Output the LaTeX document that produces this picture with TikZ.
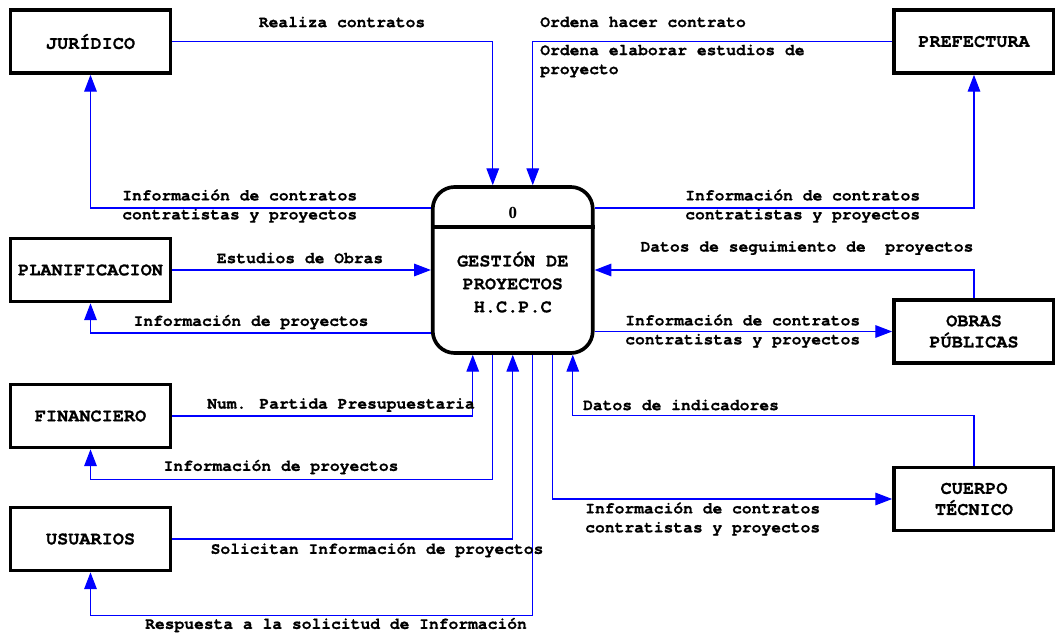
\documentclass[tikz,border=0pt]{standalone}
\usepackage{fontspec}
\usetikzlibrary{arrows.meta}
\newfontfamily\dfdmono{texgyrecursor}[Extension=.otf, UprightFont=*-regular, BoldFont=*-bold, BoldFeatures={FakeBold=0.8}]
\newfontfamily\dfdserif{Liberation Serif}

\tikzset{
  entity/.style={draw, line width=2.6pt, minimum width=4cm, minimum height=1.575cm,
    inner sep=0pt, align=center, font=\dfdmono\bfseries\fontsize{13.2}{15}\selectfont},
  process/.style={draw, line width=2.6pt, rounded corners=0.55cm,
    minimum width=4cm, minimum height=4.15cm, inner sep=0pt},
  ptitle/.style={inner sep=0pt, align=center, font=\dfdmono\bfseries\fontsize{13.2}{16.3}\selectfont},
  flow/.style={draw=blue, line width=0.8pt, -{Triangle[length=12pt,width=9pt]}},
  lbl/.style={inner sep=0pt, align=left, font=\dfdmono\bfseries\fontsize{11.6}{13.5}\selectfont}
}

\begin{document}
\begin{tikzpicture}[x=0.025cm, y=-0.025cm]

        \useasboundingbox (0,0) rectangle (1055,633);

        \begin{scope}[every node/.style={entity}]
          \node (jur) at (90.5,41.5) {JURÍDICO};
          \node (pre) at (974,41.5)  {PREFECTURA};
          \node (pla) at (90.5,270)  {PLANIFICACION};
          \node (fin) at (90.5,416)  {FINANCIERO};
          \node (usu) at (90.5,539)  {USUARIOS};
          \node (obr) at (974,331.5) {OBRAS\\PÚBLICAS};
          \node (cue) at (974,499)   {CUERPO\\TÉCNICO};
        \end{scope}

        \node[process] (gp) at (512.75,270) {};
        \draw[line width=2.6pt] ([yshift=-1.05cm]gp.north west) -- ([yshift=-1.05cm]gp.north east);
        \node[font=\dfdserif\bfseries\fontsize{12}{14}\selectfont] (num) at (512.75,213) {0};
        \node[ptitle] (tit) at (512.75,282) {GESTIÓN DE\\PROYECTOS\\H.C.P.C};

        \begin{scope}[every path/.style={flow}]
          \draw (jur.east) -| ([xshift=-0.5cm]gp.north);
          \draw (pre.west) -| ([xshift=0.5cm]gp.north);
          \draw ([yshift=1.55cm]gp.west) -| (jur.south);
          \draw ([yshift=1.55cm]gp.east) -| (pre.south);
          \draw (pla.east) -- (pla.east -| gp.west);
          \draw ([yshift=-1.575cm]gp.west) -| (pla.south);
          \draw (obr.north) |- (gp.east);
          \draw (obr.west -| gp.east) -- (obr.west);
          \draw (fin.east) -| ([xshift=-1cm]gp.south);
          \draw ([xshift=-0.5cm]gp.south) -- ++(0,125) -| (fin.south);
          \draw (usu.east) -| (gp.south);
          \draw ([xshift=0.5cm]gp.south) -- ++(0,261) -| (usu.south);
          \draw (cue.north) -- ++(0,-50) -| ([xshift=1.5cm]gp.south);
          \draw ([xshift=1cm]gp.south) |- (cue.west);
        \end{scope}

        \begin{scope}[every node/.style={lbl}]
          \node (l-rea) at (342,22) {Realiza contratos};
          \node[anchor=west] (l-oha) at (540,22) {Ordena hacer contrato};
          \node[anchor=west] (l-oel) at (540,61) {Ordena elaborar estudios de\\proyecto};
          \node[anchor=west] (l-ijur) at (122,206) {Información de contratos\\contratistas y proyectos};
          \node[anchor=west] (l-ipre) at (685,206) {Información de contratos\\contratistas y proyectos};
          \node (l-est) at (300,258) {Estudios de Obras};
          \node (l-ipla) at (251,322) {Información de proyectos};
          \node (l-seg) at (807,248) {Datos de seguimiento de\ \ proyectos};
          \node[anchor=west] (l-iobr) at (625,331) {Información de contratos\\contratistas y proyectos};
          \node (l-num) at (341,405) {Num. Partida Presupuestaria};
          \node (l-ifin) at (281,467) {Información de proyectos};
          \node (l-sol) at (377,550) {Solicitan Información de proyectos};
          \node (l-res) at (336,625) {Respuesta a la solicitud de Información};
          \node (l-ind) at (681,405) {Datos de indicadores};
          \node[anchor=west] (l-icue) at (585,519) {Información de contratos\\contratistas y proyectos};
        \end{scope}

      \end{tikzpicture}
\end{document}
